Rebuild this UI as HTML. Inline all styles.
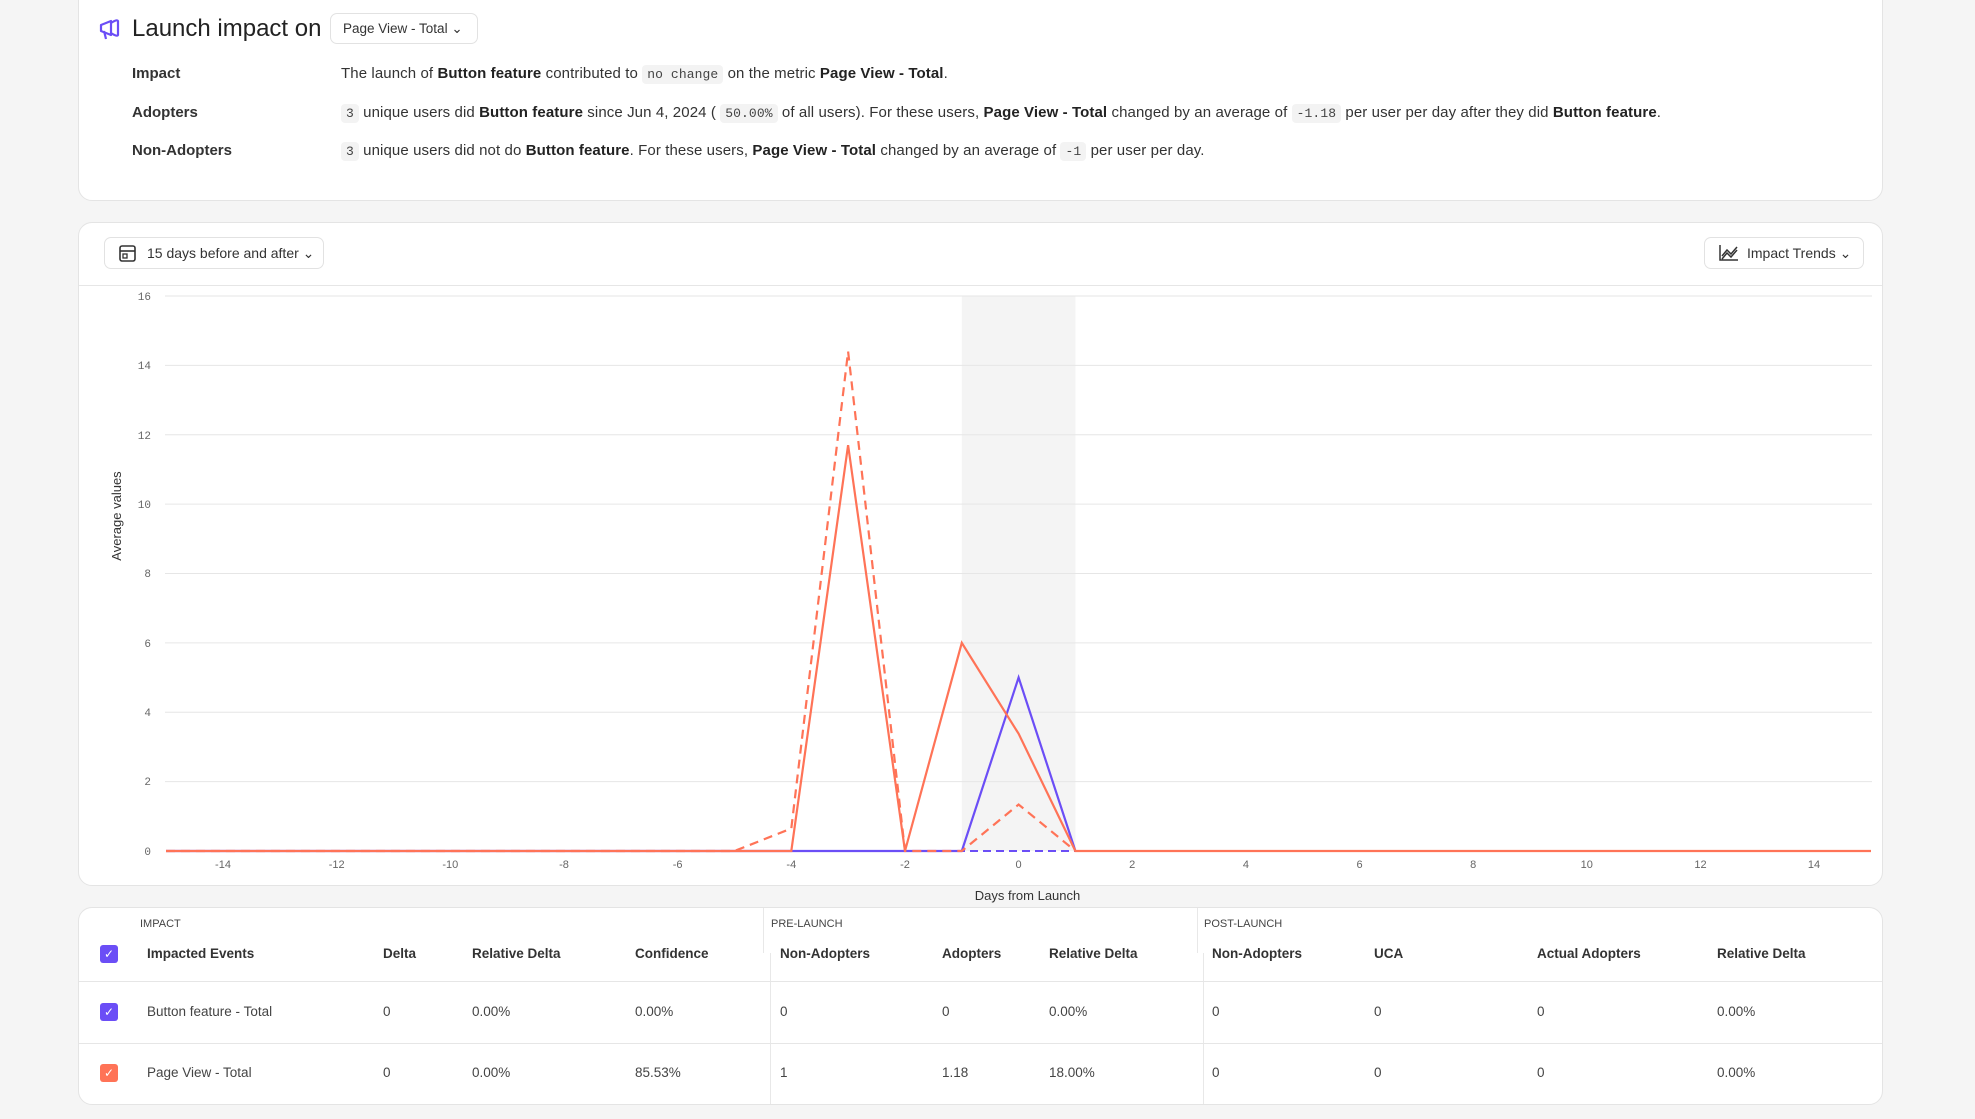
<!DOCTYPE html>
<html><head><meta charset="utf-8"><style>
*{box-sizing:border-box;margin:0;padding:0}
body{width:1975px;height:1119px;background:#f5f5f5;font-family:"Liberation Sans",sans-serif;color:#222;position:relative;overflow:hidden}
.card{position:absolute;background:#fff;border:1px solid #e4e4e4;border-radius:14px}
.a{position:absolute;white-space:nowrap}
.lbl{font-size:15px;font-weight:bold;color:#333}
.txt{font-size:15px;color:#333;letter-spacing:0.1px}
b{font-weight:bold;color:#222}
code{font-family:"Liberation Mono",monospace;font-size:13px;background:#f3f3f3;padding:2px 5px;border-radius:4px;color:#444}
.btn{position:absolute;border:1px solid #e2e2e2;border-radius:7px;background:#fff;font-size:14px;color:#333}
.th{font-size:13.5px;font-weight:bold;color:#333}
.td{font-size:13.5px;color:#444}
.grp{font-size:11px;color:#444}
.cb{position:absolute;width:18px;height:18px;border-radius:3px;color:#fff;font-size:12px;text-align:center;line-height:18px}
</style></head><body>
<div class="card" style="left:78px;top:-20px;width:1805px;height:221px"></div>
<svg class="a" style="left:97px;top:16px" width="26" height="26" viewBox="0 0 26 26"><path d="M4 9 L14 5 L14 19 L4 15 Z M14 7 Q20 3 21 5 L21 19 Q20 21 14 17 M7 15 L9 23" fill="none" stroke="#6b4ef6" stroke-width="2.2" stroke-linejoin="round"/></svg>
<div class="a" style="left:132px;top:15px;font-size:24px;color:#222">Launch impact on</div>
<div class="btn" style="left:330px;top:13px;width:148px;height:31px;padding:7px 0 0 12px;font-size:13.5px">Page View - Total &#8964;</div>
<div class="a lbl" style="left:132px;top:65px">Impact</div>
<div class="a lbl" style="left:132px;top:104px">Adopters</div>
<div class="a lbl" style="left:132px;top:142px">Non-Adopters</div>
<div class="a txt" style="left:341px;top:65px">The launch of <b>Button feature</b> contributed to <code>no change</code> on the metric <b>Page View - Total</b>.</div>
<div class="a txt" style="left:341px;top:104px"><code>3</code> unique users did <b>Button feature</b> since Jun 4, 2024 ( <code>50.00%</code> of all users). For these users, <b>Page View - Total</b> changed by an average of <code>-1.18</code> per user per day after they did <b>Button feature</b>.</div>
<div class="a txt" style="left:341px;top:142px"><code>3</code> unique users did not do <b>Button feature</b>. For these users, <b>Page View - Total</b> changed by an average of <code>-1</code> per user per day.</div>

<div class="card" style="left:78px;top:222px;width:1805px;height:664px"></div>
<div class="btn" style="left:104px;top:237px;width:220px;height:32px;padding:7px 0 0 42px">15 days before and after &#8964;</div>
<svg class="a" style="left:118px;top:243px" width="20" height="20"><rect x="2" y="3" width="15" height="15" rx="2" fill="none" stroke="#333" stroke-width="1.6"/><line x1="2" y1="8" x2="17" y2="8" stroke="#333" stroke-width="1.6"/><rect x="5" y="11" width="4" height="4" fill="none" stroke="#333" stroke-width="1.3"/></svg>
<div class="btn" style="left:1704px;top:237px;width:160px;height:32px;padding:7px 0 0 42px">Impact Trends &#8964;</div>
<svg class="a" style="left:1718px;top:243px" width="22" height="20"><path d="M2 2 V17 H20 M4 13 L9 7 L13 11 L19 4 M4 16 L9 10 L13 14 L19 7" fill="none" stroke="#333" stroke-width="1.5"/></svg>
<div class="a" style="left:79px;top:285px;width:1803px;height:1px;background:#e6e6e6"></div>

<svg class="a" style="left:0;top:0" width="1975" height="900">
<rect x="961.8" y="296" width="113.6" height="555" fill="#f4f4f4"/>
<g stroke="#e6e6e6" stroke-width="1">
<line x1="165" x2="1872" y1="296.0" y2="296.0"/><line x1="165" x2="1872" y1="365.4" y2="365.4"/><line x1="165" x2="1872" y1="434.7" y2="434.7"/><line x1="165" x2="1872" y1="504.1" y2="504.1"/><line x1="165" x2="1872" y1="573.5" y2="573.5"/><line x1="165" x2="1872" y1="642.9" y2="642.9"/><line x1="165" x2="1872" y1="712.2" y2="712.2"/><line x1="165" x2="1872" y1="781.6" y2="781.6"/>
</g>
<g font-family="Liberation Mono,monospace" font-size="11" fill="#666" text-anchor="end">
<text x="151" y="300">16</text><text x="151" y="369">14</text><text x="151" y="439">12</text><text x="151" y="508">10</text><text x="151" y="577">8</text><text x="151" y="647">6</text><text x="151" y="716">4</text><text x="151" y="785">2</text><text x="151" y="855">0</text>
</g>
<g font-family="Liberation Sans,sans-serif" font-size="11" fill="#666" text-anchor="middle">
<text x="223" y="868">-14</text><text x="336.7" y="868">-12</text><text x="450.3" y="868">-10</text><text x="564" y="868">-8</text><text x="677.6" y="868">-6</text><text x="791.3" y="868">-4</text><text x="905" y="868">-2</text><text x="1018.6" y="868">0</text><text x="1132.2" y="868">2</text><text x="1245.9" y="868">4</text><text x="1359.5" y="868">6</text><text x="1473.2" y="868">8</text><text x="1586.8" y="868">10</text><text x="1700.5" y="868">12</text><text x="1814" y="868">14</text>
</g>
<text x="121" y="516" transform="rotate(-90 121 516)" font-family="Liberation Sans,sans-serif" font-size="13" fill="#333" text-anchor="middle">Average values</text>
<polyline points="166,851 961.8,851 1018.6,677.5 1075.4,851" fill="none" stroke="#6b4ef6" stroke-width="2.2"/>
<line x1="905" y1="851" x2="1075.4" y2="851" stroke="#6b4ef6" stroke-width="2" stroke-dasharray="8,5"/>
<polyline points="166,851 734.5,851 791.3,828.5 848.1,351.5 905,851 961.8,851 1018.6,804.5 1075.4,851" fill="none" stroke="#ff7357" stroke-width="2.2" stroke-dasharray="9,6"/>
<polyline points="166,851 791.3,851 848.1,445.1 905,851 961.8,642.9 1018.6,733.7 1075.4,851 1871,851" fill="none" stroke="#ff7357" stroke-width="2.2"/>
</svg>
<div class="a" style="left:0;width:2055px;top:888px;font-size:13px;color:#333;text-align:center">Days from Launch</div>

<div class="card" style="left:78px;top:907px;width:1805px;height:198px"></div>
<div class="a" style="left:763px;top:908px;width:1px;height:45px;background:#e8e8e8"></div>
<div class="a" style="left:1197px;top:908px;width:1px;height:45px;background:#e8e8e8"></div>
<div class="a" style="left:770px;top:953px;width:1px;height:151px;background:#e8e8e8"></div>
<div class="a" style="left:1203px;top:953px;width:1px;height:151px;background:#e8e8e8"></div>
<div class="a" style="left:79px;top:981px;width:1803px;height:1px;background:#e6e6e6"></div>
<div class="a" style="left:79px;top:1043px;width:1803px;height:1px;background:#e6e6e6"></div>
<div class="a grp" style="left:140px;top:918px">IMPACT</div>
<div class="a grp" style="left:771px;top:918px">PRE-LAUNCH</div>
<div class="a grp" style="left:1204px;top:918px">POST-LAUNCH</div>
<div class="cb" style="left:100px;top:945px;background:#6b4ef6">✓</div>
<div class="cb" style="left:100px;top:1003px;background:#6b4ef6">✓</div>
<div class="cb" style="left:100px;top:1064px;background:#ff7357">✓</div>
<div class="a th" style="left:147px;top:946px">Impacted Events</div>
<div class="a th" style="left:383px;top:946px">Delta</div>
<div class="a th" style="left:472px;top:946px">Relative Delta</div>
<div class="a th" style="left:635px;top:946px">Confidence</div>
<div class="a th" style="left:780px;top:946px">Non-Adopters</div>
<div class="a th" style="left:942px;top:946px">Adopters</div>
<div class="a th" style="left:1049px;top:946px">Relative Delta</div>
<div class="a th" style="left:1212px;top:946px">Non-Adopters</div>
<div class="a th" style="left:1374px;top:946px">UCA</div>
<div class="a th" style="left:1537px;top:946px">Actual Adopters</div>
<div class="a th" style="left:1717px;top:946px">Relative Delta</div>
<div class="a td" style="left:147px;top:1004px">Button feature - Total</div>
<div class="a td" style="left:383px;top:1004px">0</div>
<div class="a td" style="left:472px;top:1004px">0.00%</div>
<div class="a td" style="left:635px;top:1004px">0.00%</div>
<div class="a td" style="left:780px;top:1004px">0</div>
<div class="a td" style="left:942px;top:1004px">0</div>
<div class="a td" style="left:1049px;top:1004px">0.00%</div>
<div class="a td" style="left:1212px;top:1004px">0</div>
<div class="a td" style="left:1374px;top:1004px">0</div>
<div class="a td" style="left:1537px;top:1004px">0</div>
<div class="a td" style="left:1717px;top:1004px">0.00%</div>
<div class="a td" style="left:147px;top:1065px">Page View - Total</div>
<div class="a td" style="left:383px;top:1065px">0</div>
<div class="a td" style="left:472px;top:1065px">0.00%</div>
<div class="a td" style="left:635px;top:1065px">85.53%</div>
<div class="a td" style="left:780px;top:1065px">1</div>
<div class="a td" style="left:942px;top:1065px">1.18</div>
<div class="a td" style="left:1049px;top:1065px">18.00%</div>
<div class="a td" style="left:1212px;top:1065px">0</div>
<div class="a td" style="left:1374px;top:1065px">0</div>
<div class="a td" style="left:1537px;top:1065px">0</div>
<div class="a td" style="left:1717px;top:1065px">0.00%</div>
</body></html>
